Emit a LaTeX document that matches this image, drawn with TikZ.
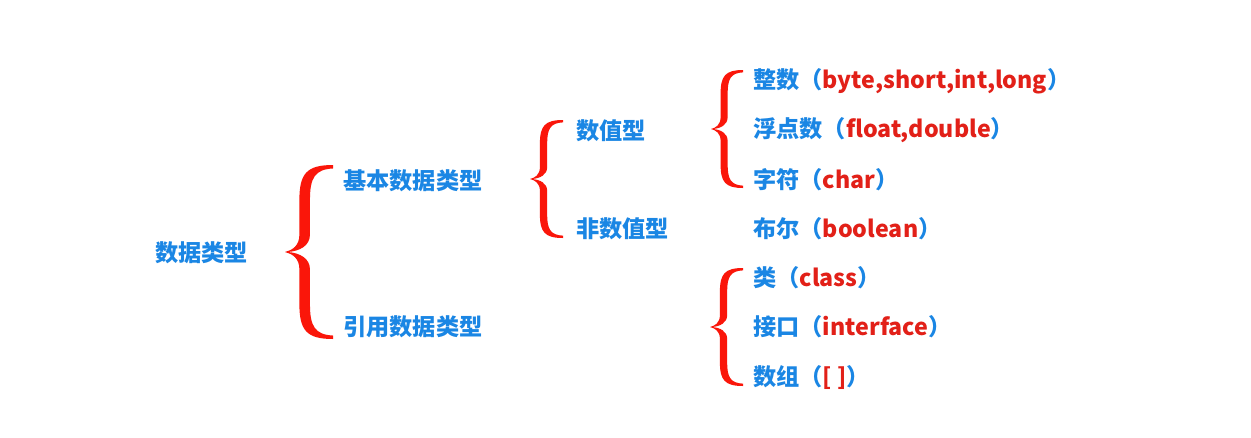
\documentclass[tikz,border=0pt]{standalone}
\usepackage{fontspec}
\setmainfont{Noto Sans CJK SC}
\definecolor{tblue}{RGB}{26,134,228}
\definecolor{tred}{RGB}{226,32,24}
\definecolor{bred}{RGB}{250,22,10}
\newcommand{\drawbrace}[4]{%
  \fill[bred,shift={(#1,#2)}]
    ({#3},{#4}) .. controls ({0.45*#3},{#4}) and ({0.3*#3},{0.9*#4}) .. ({0.3*#3},{0.6*#4})
    -- ({0.3*#3},{0.2*#4}) .. controls ({0.3*#3},{0.07*#4}) and ({0.15*#3},{0.02*#4}) .. (0,0)
    .. controls ({0.15*#3},{-0.02*#4}) and ({0.3*#3},{-0.07*#4}) .. ({0.3*#3},{-0.2*#4})
    -- ({0.3*#3},{-0.6*#4}) .. controls ({0.3*#3},{-0.9*#4}) and ({0.45*#3},{-#4}) .. ({#3},{-#4})
    -- ({#3},{-0.96*#4}) .. controls ({0.62*#3},{-0.95*#4}) and ({0.52*#3},{-0.85*#4}) .. ({0.52*#3},{-0.6*#4})
    -- ({0.52*#3},{-0.2*#4}) .. controls ({0.52*#3},{-0.07*#4}) and ({0.3*#3},{-0.01*#4}) .. ({0.06*#3},0)
    .. controls ({0.3*#3},{0.01*#4}) and ({0.52*#3},{0.07*#4}) .. ({0.52*#3},{0.2*#4})
    -- ({0.52*#3},{0.6*#4}) .. controls ({0.52*#3},{0.85*#4}) and ({0.62*#3},{0.95*#4}) .. ({#3},{0.96*#4})
    -- cycle;}
\tikzset{lbl/.style={anchor=west,inner sep=0pt,text=tblue,font=\fontsize{13.2}{15}\selectfont\bfseries}}
\newcommand{\rt}[1]{\textcolor{tred}{#1}}
\begin{document}
\begin{tikzpicture}[x=0.02cm,y=-0.02cm]
\useasboundingbox[fill=white] (0,0) rectangle (1251,437);
\node[lbl] (root) at (155,253) {数据类型};
\node[lbl] (basic) at (343,181) {基本数据类型};
\node[lbl] (ref) at (343,327) {引用数据类型};
\node[lbl] (num) at (576,131) {数值型};
\node[lbl] (nonnum) at (576,229) {非数值型};
\node[lbl] (int) at (753,81) {整数（\rt{byte,short,int,long}）};
\node[lbl] (flt) at (753,130) {浮点数（\rt{float,double}）};
\node[lbl] (chr) at (753,180) {字符（\rt{char}）};
\node[lbl] (bool) at (753,229) {布尔（\rt{boolean}）};
\node[lbl] (cls) at (753,278) {类（\rt{class}）};
\node[lbl] (ifc) at (753,327) {接口（\rt{interface}）};
\node[lbl] (arr) at (753,378) {数组（\rt{[ ]}）};
\drawbrace{285}{252}{48}{87}
\drawbrace{530}{179}{33}{59}
\drawbrace{711}{129}{32}{59}
\drawbrace{710}{327}{33}{59}
\end{tikzpicture}
\end{document}
